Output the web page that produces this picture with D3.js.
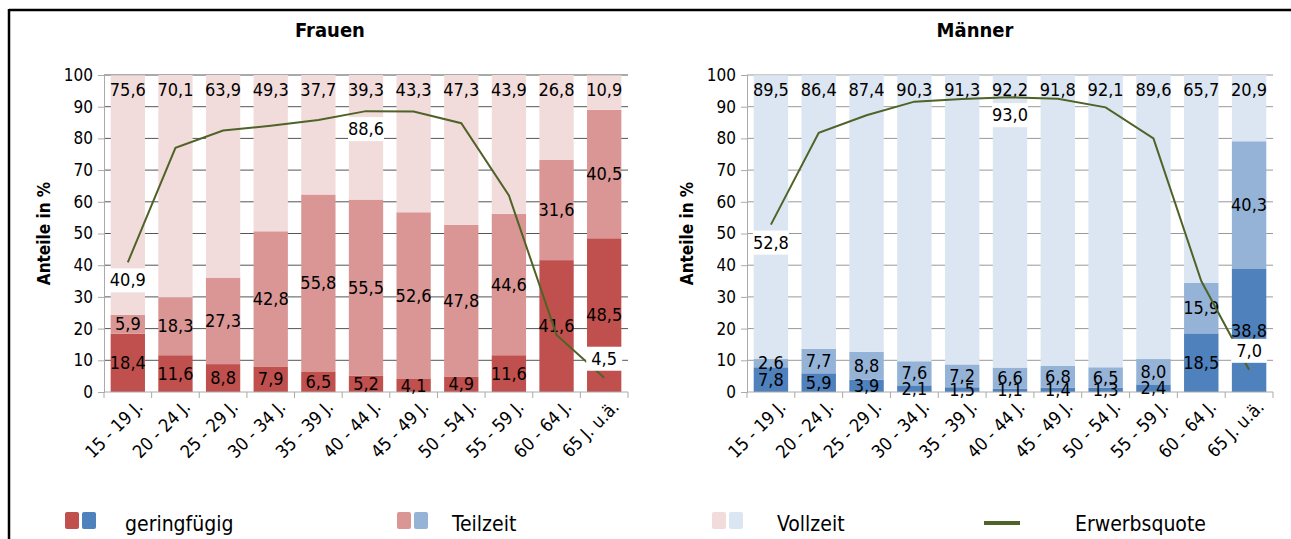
<!DOCTYPE html>
<html>
<head>
<meta charset="utf-8">
<script src="https://cdn.jsdelivr.net/npm/d3@7"></script>
<style>
  body { margin: 0; background: #fff; }
  svg { display: block; font-family: "DejaVu Sans Condensed", "Liberation Sans Narrow", sans-serif; }
</style>
</head>
<body>
<svg width="1291" height="539"></svg>
<script>
// Data
const categories = ["15 - 19 J.", "20 - 24 J.", "25 - 29 J.", "30 - 34 J.", "35 - 39 J.", "40 - 44 J.",
  "45 - 49 J.", "50 - 54 J.", "55 - 59 J.", "60 - 64 J.", "65 J. u.ä."];
const yTicks = [0, 10, 20, 30, 40, 50, 60, 70, 80, 90, 100];

const frauenGering = [18.4, 11.6, 8.8, 7.9, 6.5, 5.2, 4.1, 4.9, 11.6, 41.6, 48.5];
const frauenTeil   = [5.9, 18.3, 27.3, 42.8, 55.8, 55.5, 52.6, 47.8, 44.6, 31.6, 40.5];
const frauenVoll   = [75.6, 70.1, 63.9, 49.3, 37.7, 39.3, 43.3, 47.3, 43.9, 26.8, 10.9];
const frauenQuote  = [40.9, 77.0, 82.5, 84.0, 85.8, 88.6, 88.5, 84.8, 62.0, 18.0, 4.5];

const maennerGering = [7.8, 5.9, 3.9, 2.1, 1.5, 1.1, 1.4, 1.3, 2.4, 18.5, 38.8];
const maennerTeil   = [2.6, 7.7, 8.8, 7.6, 7.2, 6.6, 6.8, 6.5, 8.0, 15.9, 40.3];
const maennerVoll   = [89.5, 86.4, 87.4, 90.3, 91.3, 92.2, 91.8, 92.1, 89.6, 65.7, 20.9];
const maennerQuote  = [52.8, 81.8, 87.3, 91.6, 92.4, 93.0, 92.5, 89.8, 80.0, 35.0, 7.0];

// Erwerbsquote points that carry a label, and where it sits
const quoteLabels = [{ i: 0, pos: "below" }, { i: 5, pos: "below" }, { i: 10, pos: "above" }];

const fmt = v => d3.format(".1f")(v).replace(".", ",");

const svg = d3.select("svg");

// Frame
svg.append("line").attr("x1", 9).attr("x2", 1291).attr("y1", 10).attr("y2", 10)
  .attr("stroke", "#000").attr("stroke-width", 2.5);
svg.append("line").attr("x1", 9).attr("x2", 9).attr("y1", 9).attr("y2", 539)
  .attr("stroke", "#000").attr("stroke-width", 2.5);

const y = d3.scaleLinear().domain([0, 100]).range([392, 75]);

function drawPanel(p) {
  const x = d3.scaleBand().domain(categories).range(p.range).paddingInner(0.28).paddingOuter(0.14);
  const g = svg.append("g");

  // Title
  g.append("text").attr("x", p.titleX).attr("y", 37).attr("text-anchor", "middle")
    .attr("font-size", 20).attr("font-weight", "bold").text(p.title);

  // Gridlines
  g.append("g").selectAll("line").data(yTicks.slice(1)).join("line")
    .attr("x1", p.range[0]).attr("x2", p.range[1])
    .attr("y1", d => y(d)).attr("y2", d => y(d))
    .attr("stroke", p.gridColor).attr("stroke-width", 1);

  // Stacked bars
  const rows = categories.map((c, i) => ({ cat: c, g: p.gering[i], t: p.teil[i], v: p.voll[i] }));
  const stack = d3.stack().keys(["g", "t", "v"])(rows);
  g.append("g").selectAll("g").data(stack).join("g")
    .attr("fill", (d, k) => p.colors[k])
    .selectAll("rect").data(d => d).join("rect")
    .attr("x", d => x(d.data.cat))
    .attr("width", x.bandwidth())
    .attr("y", d => y(Math.min(d[1], 100)))
    .attr("height", d => y(d[0]) - y(Math.min(d[1], 100)));

  // Axes
  const yAxis = g.append("g").attr("transform", `translate(${p.range[0]},0)`)
    .call(d3.axisLeft(y).tickValues(yTicks).tickSize(6).tickPadding(5));
  yAxis.select(".domain").attr("stroke", "#aaa");
  yAxis.selectAll(".tick line").attr("stroke", "#aaa");
  yAxis.selectAll(".tick text").attr("font-size", 17).attr("fill", "#000")
    .attr("font-family", "DejaVu Sans Condensed, sans-serif");

  const xAxis = g.append("g").attr("transform", `translate(0,${y(0)})`);
  xAxis.append("line").attr("x1", p.range[0]).attr("x2", p.range[1])
    .attr("stroke", "#aaa");
  const step = x.step();
  const bounds = d3.range(categories.length + 1).map(i => p.range[0] + i * step);
  xAxis.selectAll("line.tk").data(bounds).join("line").attr("class", "tk")
    .attr("x1", d => d).attr("x2", d => d).attr("y1", 0).attr("y2", 6)
    .attr("stroke", "#aaa");
  xAxis.selectAll("text").data(categories).join("text")
    .attr("transform", d => `translate(${x(d) + x.bandwidth() / 2 + 16},16) rotate(-45)`)
    .attr("text-anchor", "end").attr("font-size", 18).text(d => d);

  // Y axis title
  g.append("text").attr("transform", `translate(${p.range[0] - 54},${y(50)}) rotate(-90)`)
    .attr("text-anchor", "middle").attr("font-size", 17).attr("font-weight", "bold")
    .text("Anteile in %");

  // Segment labels (geringfügig and Teilzeit centred, Vollzeit at top)
  const lbl = g.append("g").attr("font-size", 18).attr("text-anchor", "middle");
  stack.forEach((layer, k) => {
    lbl.selectAll(null).data(layer).join("text")
      .attr("x", d => x(d.data.cat) + x.bandwidth() / 2)
      .attr("y", d => k < 2 ? y((d[0] + d[1]) / 2) + 6 : y(100) + 21)
      .text((d, i) => fmt(k === 0 ? p.gering[i] : k === 1 ? p.teil[i] : p.voll[i]));
  });

  // Erwerbsquote line
  const line = d3.line().x((d, i) => x(categories[i]) + x.bandwidth() / 2).y(d => y(d));
  g.append("path").datum(p.quote).attr("fill", "none")
    .attr("stroke", "#4F6228").attr("stroke-width", 2).attr("d", line);

  // Erwerbsquote labels with white box
  quoteLabels.forEach(q => {
    const cx = x(categories[q.i]) + x.bandwidth() / 2;
    const cy = y(p.quote[q.i]) + (q.pos === "below" ? 17 : -20);
    g.append("rect").attr("x", cx - 18).attr("y", cy - 11).attr("width", 36).attr("height", 24)
      .attr("fill", "#fff");
    g.append("text").attr("x", cx).attr("y", cy + 7).attr("text-anchor", "middle")
      .attr("font-size", 18).text(fmt(p.quote[q.i]));
  });
}

drawPanel({
  title: "Frauen", titleX: 330, range: [104, 628], gridColor: "#555",
  gering: frauenGering, teil: frauenTeil, voll: frauenVoll, quote: frauenQuote,
  colors: ["#C0504D", "#D99694", "#F2DCDB"]
});
drawPanel({
  title: "Männer", titleX: 975, range: [747, 1273], gridColor: "#999",
  gering: maennerGering, teil: maennerTeil, voll: maennerVoll, quote: maennerQuote,
  colors: ["#4F81BD", "#95B3D7", "#DCE6F2"]
});

// Legend
const legendItems = [
  { label: "geringfügig", colors: ["#C0504D", "#4F81BD"], sx: 65, tx: 125 },
  { label: "Teilzeit", colors: ["#D99694", "#95B3D7"], sx: 397, tx: 452 },
  { label: "Vollzeit", colors: ["#F2DCDB", "#DCE6F2"], sx: 712, tx: 777 }
];
const lg = svg.append("g");
legendItems.forEach(it => {
  it.colors.forEach((c, k) => {
    lg.append("rect").attr("x", it.sx + k * 17).attr("y", 512).attr("width", 14).attr("height", 17)
      .attr("rx", 2).attr("fill", c);
  });
  lg.append("text").attr("x", it.tx).attr("y", 531).attr("font-size", 21).text(it.label);
});
lg.append("line").attr("x1", 984).attr("x2", 1020).attr("y1", 523).attr("y2", 523)
  .attr("stroke", "#4F6228").attr("stroke-width", 4);
lg.append("text").attr("x", 1075).attr("y", 531).attr("font-size", 21).text("Erwerbsquote");
</script>
</body>
</html>
